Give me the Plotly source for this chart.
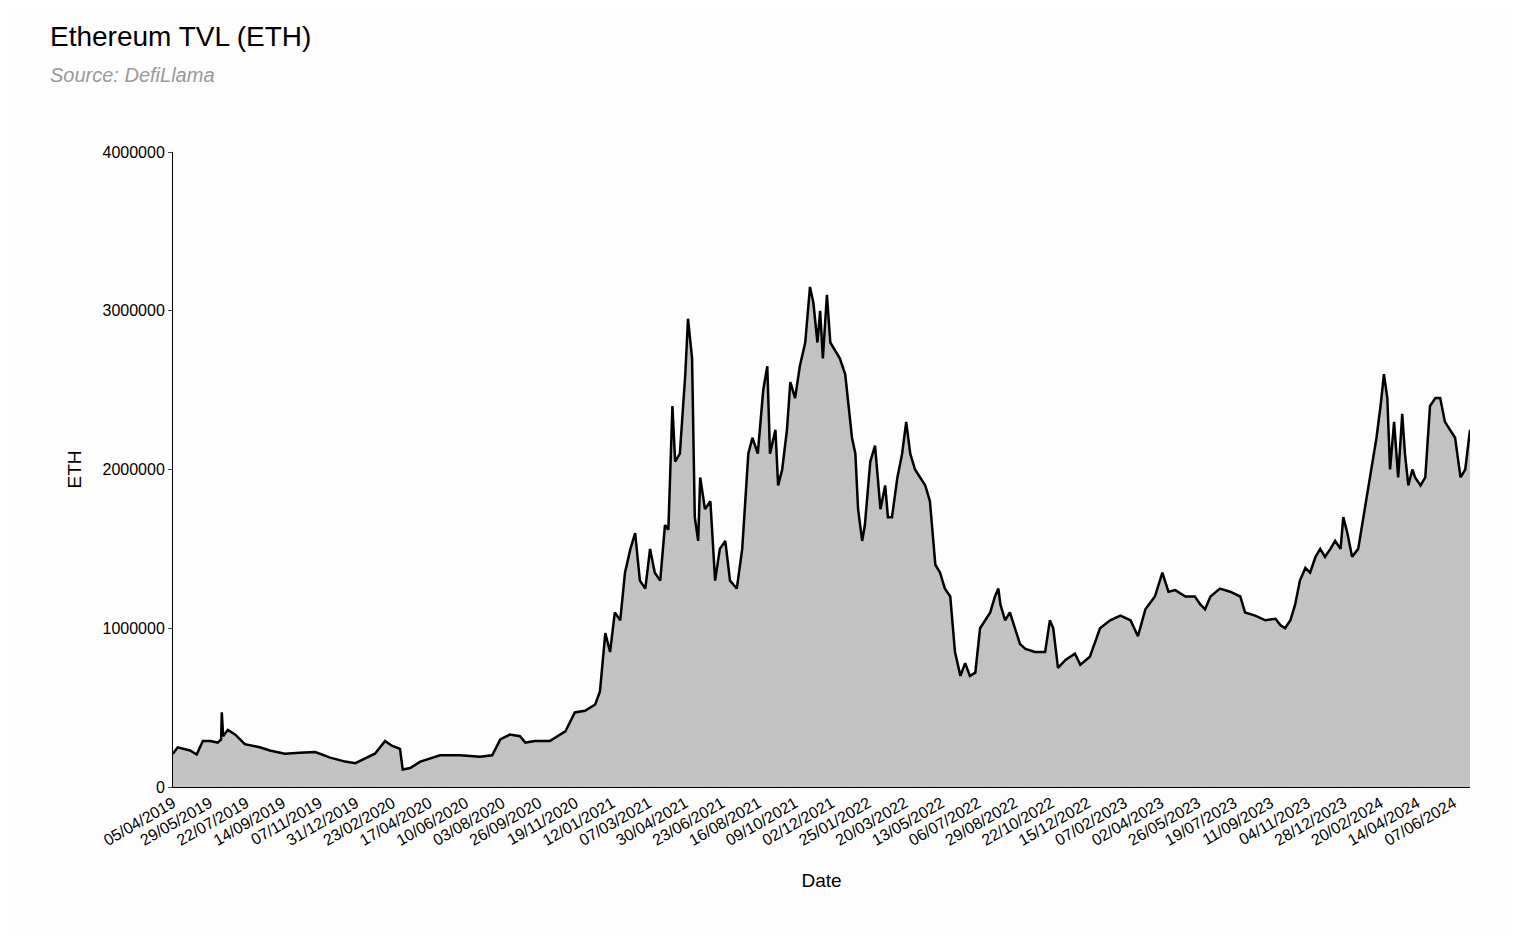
import pandas as pd
import plotly.graph_objects as go

start = pd.Timestamp('2019-04-05')

# days since 05/04/2019 and TVL in thousands of ETH
days = [0, 7, 25, 35, 44, 55, 66, 71, 72, 74, 81, 92, 106, 128, 143, 165, 187, 210, 232, 254,
        269, 283, 298, 313, 323, 335, 339, 350, 365, 394, 424, 453, 471, 483, 497, 512, 520, 534,
        556, 579, 593, 608, 623, 630, 638, 645, 652, 660, 667, 675, 682, 689, 697, 704, 711, 719,
        726, 731, 737, 741, 748, 756, 760, 766, 770, 775, 778, 785, 793, 800, 807, 815, 822, 832,
        840, 849, 855, 863, 871, 877, 881, 889, 893, 899, 906, 911, 918, 925, 933, 940, 945, 951,
        955, 959, 965, 970, 977, 984, 992, 996, 1002, 1007, 1011, 1017, 1021, 1029, 1036, 1044,
        1051, 1055, 1061, 1069, 1076, 1082, 1088, 1095, 1103, 1110, 1117, 1125, 1132, 1139, 1147,
        1154, 1162, 1169, 1176, 1184, 1191, 1198, 1206, 1213, 1218, 1221, 1228, 1235, 1243, 1250,
        1258, 1272, 1287, 1294, 1299, 1306, 1317, 1331, 1339, 1353, 1368, 1383, 1398, 1413, 1424,
        1435, 1449, 1460, 1469, 1479, 1494, 1508, 1516, 1523, 1531, 1545, 1560, 1575, 1582, 1597,
        1612, 1627, 1634, 1641, 1649, 1656, 1663, 1671, 1678, 1686, 1693, 1700, 1708, 1715, 1723,
        1727, 1733, 1740, 1749, 1755, 1764, 1770, 1776, 1782, 1787, 1792, 1796, 1802, 1808, 1814,
        1818, 1823, 1829, 1833, 1841, 1848, 1855, 1863, 1870, 1877, 1885, 1892, 1900, 1907, 1914]
tvl_k = [210, 250, 230, 205, 290, 290, 280, 300, 470, 320, 360, 330, 270, 250, 230, 210, 215, 220, 185, 160,
         150, 180, 210, 290, 260, 240, 110, 120, 160, 200, 200, 190, 200, 300, 330, 320, 280, 290,
         290, 350, 470, 480, 520, 600, 970, 850, 1100, 1050, 1350, 1500, 1600, 1300, 1250, 1500, 1350, 1300,
         1650, 1620, 2400, 2050, 2100, 2600, 2950, 2700, 1700, 1550, 1950, 1750, 1800, 1300, 1500, 1550, 1300, 1250,
         1500, 2100, 2200, 2100, 2500, 2650, 2100, 2250, 1900, 2000, 2250, 2550, 2450, 2650, 2800, 3150, 3050, 2800,
         3000, 2700, 3100, 2800, 2750, 2700, 2600, 2450, 2200, 2100, 1750, 1550, 1650, 2050, 2150, 1750,
         1900, 1700, 1700, 1950, 2100, 2300, 2100, 2000, 1950, 1900, 1800, 1400, 1350, 1250, 1200,
         850, 700, 780, 700, 720, 1000, 1050, 1100, 1200, 1250, 1150, 1050, 1100, 1000, 900,
         870, 850, 850, 1050, 1000, 750, 800, 840, 770, 820, 1000, 1050, 1080, 1050, 950,
         1120, 1200, 1350, 1230, 1240, 1200, 1200, 1150, 1120, 1200, 1250, 1230, 1200, 1100, 1080,
         1050, 1060, 1020, 1000, 1050, 1150, 1300, 1380, 1350, 1450, 1500, 1450, 1500, 1550, 1500,
         1700, 1600, 1450, 1500, 1650, 1900, 2050, 2200, 2400, 2600, 2450, 2000, 2300, 1950, 2350,
         2100, 1900, 2000, 1950, 1900, 1950, 2400, 2450, 2450, 2300, 2250, 2200, 1950, 2000, 2250]

dates = [start + pd.Timedelta(days=d) for d in days]
tvl = [v * 1000 for v in tvl_k]

tick_dates = [start + pd.Timedelta(days=54 * i) for i in range(36)]
tick_text = [d.strftime('%d/%m/%Y') for d in tick_dates]

fig = go.Figure(go.Scatter(
    x=dates, y=tvl, mode='lines', fill='tozeroy',
    line=dict(color='black', width=2.5),
    fillcolor='#c2c2c2',
    fillpattern=dict(shape='x', size=3, solidity=0.15, fgcolor='#a8a8a8', bgcolor='#c4c4c4'),
    showlegend=False))

fig.update_layout(
    width=1504, height=927,
    paper_bgcolor='#fdfdfd', plot_bgcolor='#fdfdfd',
    margin=dict(l=165, r=42, t=144, b=148),
    font=dict(family='Liberation Sans, Arial', size=16, color='black'),
    title=dict(text='Ethereum TVL (ETH)<br><span style="font-size:20px;color:#999"><i>Source: DefiLlama</i></span>',
               x=42 / 1504, xanchor='left', y=1 - 38 / 927, yanchor='top', font=dict(size=28)),
    xaxis=dict(title=dict(text='Date', standoff=25), tickvals=tick_dates, ticktext=tick_text, tickangle=-30,
               tickfont=dict(size=16), range=[dates[0], dates[-1]], showgrid=False, showline=True,
               linecolor='black', zeroline=False),
    yaxis=dict(title=dict(text='ETH'), range=[0, 4000000], tickvals=[0, 1000000, 2000000, 3000000, 4000000],
               ticktext=['0', '1000000', '2000000', '3000000', '4000000'], showgrid=False, tickfont=dict(size=16),
               showline=True, linecolor='black', zeroline=False, ticks='outside', ticklen=4),
)

fig.write_html('out.html')
